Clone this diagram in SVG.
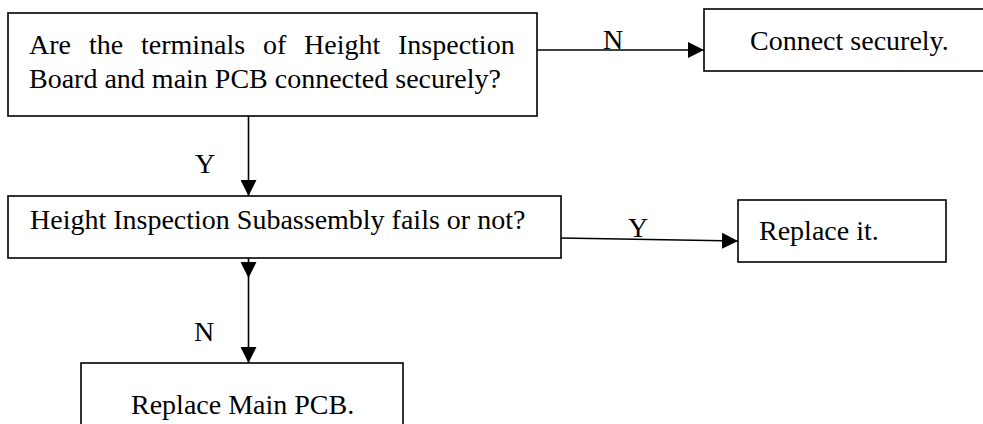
<svg xmlns="http://www.w3.org/2000/svg" width="983" height="424" viewBox="0 0 983 424">
<style>
.box{fill:#fff;stroke:#000;stroke-width:1.6}
.t{font-family:"Liberation Serif","Times New Roman",serif;font-size:28px;fill:#000}
.c{fill:none;stroke:#000;stroke-width:1.6}
</style>
<defs>
<marker id="ah" markerUnits="userSpaceOnUse" markerWidth="16" markerHeight="16" viewBox="0 0 16 16" refX="16" refY="8" orient="auto">
<path d="M0,0 L16,8 L0,16 Z" fill="#000"/>
</marker>
</defs>
<rect width="983" height="424" fill="#fff"/>
<g id="connectors">
<path class="c" d="M537,50 L704,50" marker-end="url(#ah)"/>
<path class="c" d="M248.5,116 L248.5,196" marker-end="url(#ah)"/>
<path class="c" d="M561,238 L738,241" marker-end="url(#ah)"/>
<path class="c" d="M248.5,258 L248.5,278" marker-end="url(#ah)"/>
<path class="c" d="M248.5,278 L248.5,363" marker-end="url(#ah)"/>
<text class="t" x="613" y="49" text-anchor="middle">N</text>
<text class="t" x="205" y="173" text-anchor="middle">Y</text>
<text class="t" x="638" y="237" text-anchor="middle">Y</text>
<text class="t" x="204" y="341" text-anchor="middle">N</text>
</g>
<g id="q1">
<rect class="box" x="8" y="13" width="529" height="103"/>
<text class="t" y="54"><tspan x="29">Are</tspan><tspan x="89">the</tspan><tspan x="141">terminals</tspan><tspan x="263">of</tspan><tspan x="304">Height</tspan><tspan x="398">Inspection</tspan></text>
<text class="t" x="29" y="88">Board and main PCB connected securely?</text>
</g>
<g id="connect">
<rect class="box" x="704" y="9" width="290" height="62"/>
<text class="t" x="750" y="50">Connect securely.</text>
</g>
<g id="q2">
<rect class="box" x="8" y="196" width="553" height="62"/>
<text class="t" x="30" y="229">Height Inspection Subassembly fails or not?</text>
</g>
<g id="replace-it">
<rect class="box" x="738" y="200" width="208" height="62"/>
<text class="t" x="759" y="240">Replace it.</text>
</g>
<g id="replace-pcb">
<rect class="box" x="81" y="363" width="322" height="70"/>
<text class="t" x="131" y="414">Replace Main PCB.</text>
</g>
</svg>
